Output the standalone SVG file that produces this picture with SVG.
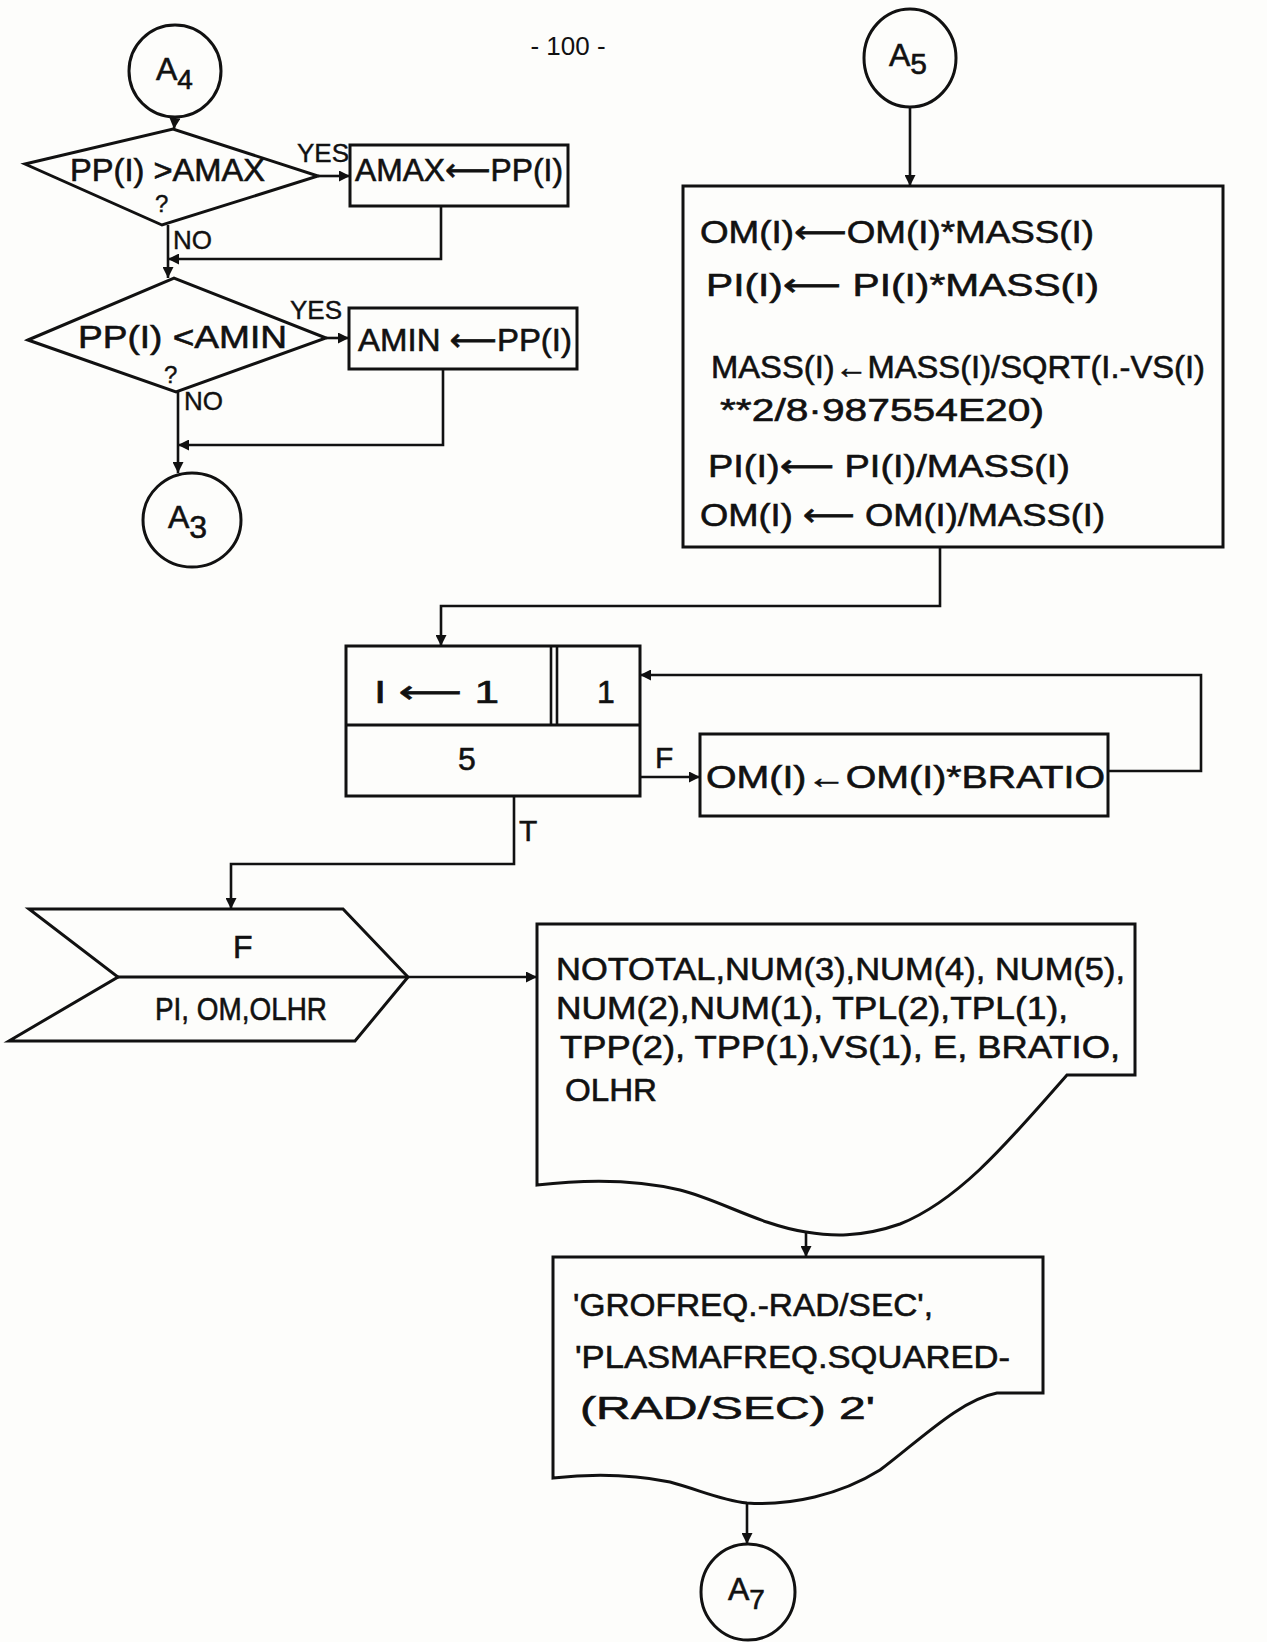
<svg xmlns="http://www.w3.org/2000/svg" width="1267" height="1642" viewBox="0 0 1267 1642">
<defs>
<marker id="ah" viewBox="0 0 10 10" refX="10" refY="5" markerWidth="11" markerHeight="11" markerUnits="userSpaceOnUse" orient="auto">
<path d="M0,0 L10,5 L0,10 z" fill="#111"/>
</marker>
<style>
.s{fill:none;stroke:#111;stroke-width:3;stroke-linejoin:miter}
.c{fill:none;stroke:#111;stroke-width:2.6}
.t{font-family:"Liberation Sans","DejaVu Sans",sans-serif;font-size:32px;fill:#111;stroke:#111;stroke-width:0.6}
.m{font-family:"Liberation Sans","DejaVu Sans",sans-serif;font-size:26px;fill:#111;stroke:#111;stroke-width:0.4}
.lb{font-family:"Liberation Sans","DejaVu Sans",sans-serif;font-size:30px;fill:#111;stroke:#111;stroke-width:0.5}
.q{font-family:"Liberation Sans","DejaVu Sans",sans-serif;font-size:24px;fill:#111;stroke:#111;stroke-width:0.4}
.l{font-family:"Liberation Sans","DejaVu Sans",sans-serif;font-size:26px;fill:#111}
</style>
</defs>
<rect width="1267" height="1642" fill="#fdfdfb"/>
<text class="l" x="568" y="55" text-anchor="middle">- 100 -</text>

<g id="A4">
<ellipse class="s" cx="175" cy="71" rx="46" ry="46"/>
<text class="t" x="156" y="80">A<tspan style="font-size:28px" dy="9">4</tspan></text>
</g>

<g id="dec1">
<polygon class="s" points="25,164 173,129 318,176 162,225"/>
<text class="t" x="70" y="181" textLength="195" lengthAdjust="spacingAndGlyphs">PP(I) &gt;AMAX</text>
<text class="q" x="155" y="212">?</text>
</g>

<g id="amax">
<rect class="s" x="350" y="145" width="218" height="61"/>
<text class="t" x="355" y="181" textLength="208" lengthAdjust="spacingAndGlyphs">AMAX⟵PP(I)</text>
</g>

<g id="dec2">
<polygon class="s" points="28,340 174,278 326,338 176,392"/>
<text class="t" x="78" y="348" textLength="209" lengthAdjust="spacingAndGlyphs">PP(I) &lt;AMIN</text>
<text class="q" x="164" y="383">?</text>
</g>

<g id="amin">
<rect class="s" x="349" y="308" width="228" height="61"/>
<text class="t" x="358" y="351" textLength="214" lengthAdjust="spacingAndGlyphs">AMIN ⟵PP(I)</text>
</g>

<g id="A3">
<ellipse class="s" cx="192" cy="520" rx="49" ry="47"/>
<text class="t" x="168" y="528">A<tspan dy="10">3</tspan></text>
</g>

<g id="A5">
<ellipse class="s" cx="910" cy="58" rx="46" ry="49"/>
<text class="t" x="889" y="66">A<tspan style="font-size:30px" dy="8">5</tspan></text>
</g>

<g id="calc">
<rect class="s" x="683" y="186" width="540" height="361"/>
<text class="t" x="700" y="243" textLength="394" lengthAdjust="spacingAndGlyphs">OM(I)⟵OM(I)*MASS(I)</text>
<text class="t" x="706" y="296" textLength="393" lengthAdjust="spacingAndGlyphs">PI(I)⟵ PI(I)*MASS(I)</text>
<text class="t" x="711" y="378" textLength="494" lengthAdjust="spacingAndGlyphs">MASS(I)←MASS(I)/SQRT(I.-VS(I)</text>
<text class="t" x="720" y="421" textLength="324" lengthAdjust="spacingAndGlyphs">**2/8·987554E20)</text>
<text class="t" x="708" y="477" textLength="362" lengthAdjust="spacingAndGlyphs">PI(I)⟵ PI(I)/MASS(I)</text>
<text class="t" x="700" y="526" textLength="405" lengthAdjust="spacingAndGlyphs">OM(I) ⟵ OM(I)/MASS(I)</text>
</g>

<g id="loop">
<rect class="s" x="346" y="646" width="294" height="150"/>
<line class="s" x1="346" y1="725" x2="640" y2="725"/>
<line class="c" x1="551" y1="646" x2="551" y2="725"/>
<line class="c" x1="557" y1="646" x2="557" y2="725"/>
<text class="t" x="374" y="703" textLength="125" lengthAdjust="spacingAndGlyphs">I ⟵ 1</text>
<text class="t" x="597" y="703">1</text>
<text class="t" x="458" y="770">5</text>
</g>

<g id="bratio">
<rect class="s" x="700" y="734" width="408" height="82"/>
<text class="t" x="706" y="788" textLength="399" lengthAdjust="spacingAndGlyphs">OM(I)←OM(I)*BRATIO</text>
</g>

<g id="display">
<path class="s" d="M29,909 L343,909 L408,977 L355,1041 L9,1041 L118,977 Z"/>
<line class="s" x1="118" y1="977" x2="408" y2="977"/>
<text class="t" x="233" y="958">F</text>
<text class="t" x="155" y="1020" textLength="172" lengthAdjust="spacingAndGlyphs">PI, OM,OLHR</text>
</g>

<g id="print1">
<path class="s" d="M537,924 L1135,924 L1135,1075 L1067,1075 C1010,1140 960,1200 900,1224 C860,1238 830,1236 806,1232 C760,1225 720,1200 680,1190 C630,1178 580,1180 537,1185 Z"/>
<text class="t" x="556" y="980" textLength="569" lengthAdjust="spacingAndGlyphs">NOTOTAL,NUM(3),NUM(4), NUM(5),</text>
<text class="t" x="556" y="1019" textLength="512" lengthAdjust="spacingAndGlyphs">NUM(2),NUM(1), TPL(2),TPL(1),</text>
<text class="t" x="560" y="1058" textLength="560" lengthAdjust="spacingAndGlyphs">TPP(2), TPP(1),VS(1), E, BRATIO,</text>
<text class="t" x="565" y="1101" textLength="92" lengthAdjust="spacingAndGlyphs">OLHR</text>
</g>

<g id="print2">
<path class="s" d="M553,1257 L1043,1257 L1043,1393 L997,1393 C960,1400 920,1440 880,1470 C840,1495 790,1506 747,1503 C720,1500 700,1490 670,1482 C630,1474 590,1474 553,1478 Z"/>
<text class="t" x="573" y="1316" textLength="360" lengthAdjust="spacingAndGlyphs">'GROFREQ.-RAD/SEC',</text>
<text class="t" x="575" y="1368" textLength="435" lengthAdjust="spacingAndGlyphs">'PLASMAFREQ.SQUARED-</text>
<text class="t" x="580" y="1419" textLength="295" lengthAdjust="spacingAndGlyphs">(RAD/SEC)   2'</text>
</g>

<g id="A7">
<ellipse class="s" cx="748" cy="1592" rx="47" ry="48"/>
<text class="t" x="728" y="1600">A<tspan style="font-size:28px" dy="9">7</tspan></text>
</g>

<g id="connectors">
<line class="c" x1="175" y1="117" x2="174" y2="129" marker-end="url(#ah)"/>
<line class="c" x1="318" y1="176" x2="350" y2="176" marker-end="url(#ah)"/>
<text class="m" x="297" y="162">YES</text>
<polyline class="c" points="168,225 168,278" marker-end="url(#ah)"/>
<text class="m" x="173" y="249">NO</text>
<polyline class="c" points="441,206 441,259 168,259" marker-end="url(#ah)"/>
<line class="c" x1="326" y1="338" x2="349" y2="338" marker-end="url(#ah)"/>
<text class="m" x="290" y="319">YES</text>
<polyline class="c" points="178,392 178,473" marker-end="url(#ah)"/>
<text class="m" x="184" y="410">NO</text>
<polyline class="c" points="443,369 443,445 178,445" marker-end="url(#ah)"/>
<line class="c" x1="910" y1="107" x2="910" y2="186" marker-end="url(#ah)"/>
<polyline class="c" points="940,547 940,606 441,606 441,646" marker-end="url(#ah)"/>
<polyline class="c" points="1108,771 1201,771 1201,675 640,675" marker-end="url(#ah)"/>
<line class="c" x1="640" y1="777" x2="700" y2="777" marker-end="url(#ah)"/>
<text class="lb" x="655" y="768">F</text>
<polyline class="c" points="514,796 514,864 231,864 231,909" marker-end="url(#ah)"/>
<text class="lb" x="519" y="841">T</text>
<line class="c" x1="408" y1="977" x2="537" y2="977" marker-end="url(#ah)"/>
<line class="c" x1="806" y1="1232" x2="806" y2="1257" marker-end="url(#ah)"/>
<line class="c" x1="747" y1="1503" x2="747" y2="1544" marker-end="url(#ah)"/>
</g>
</svg>
